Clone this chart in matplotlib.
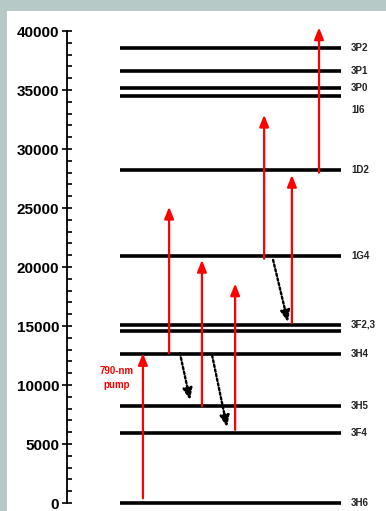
import matplotlib
matplotlib.use("Agg")
import matplotlib.pyplot as plt
from matplotlib.patches import Rectangle
from matplotlib.ticker import MultipleLocator

plt.rcParams['font.family'] = ['Liberation Sans', 'DejaVu Sans']

# energy levels (cm-1)
level_names = ['3H6', '3F4', '3H5', '3H4', '3F3', '3F2', '1G4', '1D2', '1I6', '3P0', '3P1', '3P2']
level_energy = [0, 5900, 8200, 12600, 14600, 15100, 20900, 28200, 34500, 35200, 36600, 38600]
level_labels = ['3H6', '3F4', '3H5', '3H4', '', '3F2,3', '1G4', '1D2', '1I6', '3P0', '3P1', '3P2']

# absorption (red, upward) transitions: start / end energy
up_from = [400, 12700, 8200, 6200, 20700, 15250, 28000]
up_to = [12700, 25100, 20600, 18600, 32900, 27800, 40300]

# non-radiative (dotted, downward) transitions
down_from = [12700, 12500, 20600]
down_to = [8700, 6400, 15300]

# layout (horizontal positions in axis units 0..10)
up_x = [2.38, 3.2, 4.23, 5.27, 6.18, 7.05, 7.9]
down_x0 = [3.54, 4.55, 6.46]
down_x1 = [3.86, 5.02, 6.93]
line_x0, line_x1 = 1.66, 8.59
label_x = 8.9

fig = plt.figure(figsize=(3.86, 5.11), dpi=100)
fig.patch.set_facecolor('#b6c9c7')
fig.patches.append(Rectangle((7 / 386, 0), 1, 500 / 511, transform=fig.transFigure,
                             facecolor='white', edgecolor='none', zorder=-10))

ax = fig.add_axes([67 / 386, 8 / 511, 319 / 386, 472 / 511])
ax.set_facecolor('none')
ax.set_xlim(0, 10)
ax.set_ylim(0, 40000)

for name, e, lab in zip(level_names, level_energy, level_labels):
    ax.plot([line_x0, line_x1], [e, e], color='black', lw=2.6, solid_capstyle='butt',
            clip_on=False, zorder=2)
    if lab:
        ly = e
        if name == '1I6':
            ly = e - 1200
        ax.text(label_x, ly, lab, fontsize=7, fontweight='bold', ha='left', va='center',
                color='#222222')

for x, a, b in zip(up_x, up_from, up_to):
    ax.annotate('', xy=(x, b), xytext=(x, a),
                arrowprops=dict(arrowstyle='-|>,head_length=0.7,head_width=0.28',
                                mutation_scale=10, color='red', lw=1.6,
                                shrinkA=0, shrinkB=0),
                annotation_clip=False, zorder=3)

for x0, x1, a, b in zip(down_x0, down_x1, down_from, down_to):
    ax.annotate('', xy=(x1, b), xytext=(x0, a),
                arrowprops=dict(arrowstyle='-|>,head_length=0.7,head_width=0.28',
                                mutation_scale=10, color='black', lw=1.7,
                                linestyle=(0, (1, 1)), shrinkA=0, shrinkB=0),
                zorder=3)

ax.text(1.57, 10600, '790-nm\npump', color='red', fontsize=7, fontweight='bold',
        ha='center', va='center', linespacing=1.5)

for s in ['top', 'right', 'bottom']:
    ax.spines[s].set_visible(False)
ax.spines['left'].set_linewidth(1.3)
ax.set_xticks([])
ax.yaxis.set_major_locator(MultipleLocator(5000))
ax.yaxis.set_minor_locator(MultipleLocator(1000))
ax.tick_params(axis='y', which='major', direction='inout', length=7, width=1.2,
               labelsize=11, pad=2)
ax.tick_params(axis='y', which='minor', direction='in', length=3.5, width=1.2)
for t in ax.get_yticklabels():
    t.set_fontweight('bold')

fig.savefig('out.png', dpi=100, facecolor=fig.get_facecolor())
